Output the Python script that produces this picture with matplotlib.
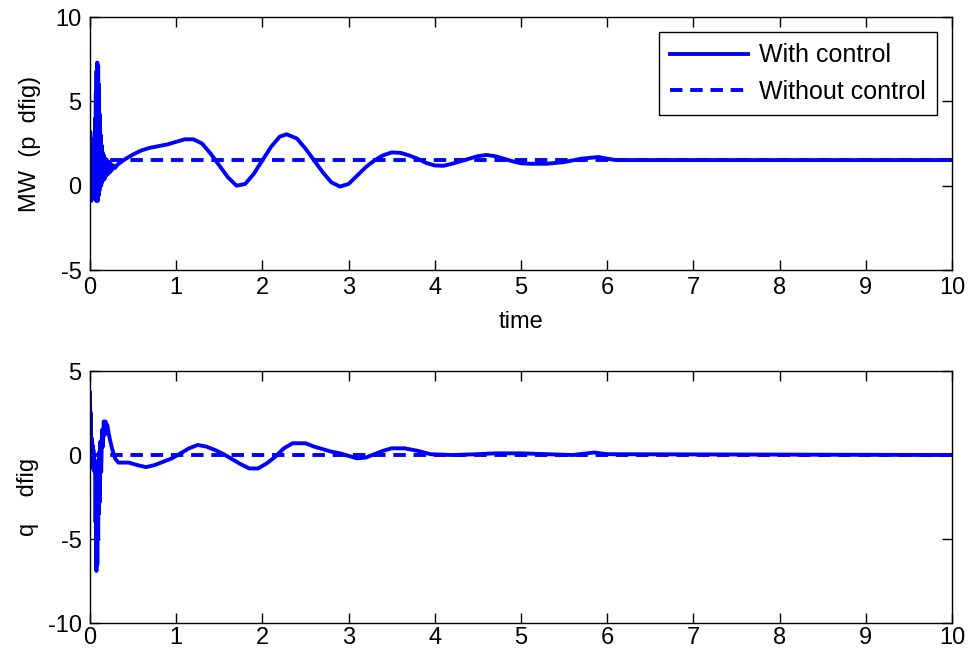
import matplotlib.pyplot as plt

plt.rcParams["font.family"] = ["Liberation Sans", "DejaVu Sans"]
plt.rcParams["font.size"] = 17
plt.rcParams["axes.unicode_minus"] = False

# top panel: active power (MW)
t_p = [0, 0.004, 0.008, 0.012, 0.016, 0.02, 0.024, 0.028, 0.032, 0.036, 0.04,
       0.044, 0.048, 0.052, 0.056, 0.06, 0.064, 0.068, 0.072, 0.076, 0.08, 0.085,
       0.09, 0.095, 0.1, 0.105, 0.11, 0.115, 0.12, 0.125, 0.13, 0.135, 0.14, 0.145,
       0.15, 0.16, 0.17, 0.18, 0.19, 0.2, 0.21, 0.22, 0.23, 0.24, 0.25, 0.27, 0.29,
       0.32, 0.36, 0.4,
       0.5, 0.6, 0.7, 0.8, 0.9, 1.0, 1.1, 1.2, 1.3, 1.4, 1.5, 1.6, 1.7, 1.8,
       1.9, 2.0, 2.1, 2.2, 2.28, 2.4, 2.5, 2.6, 2.7, 2.8, 2.9, 3.0, 3.1, 3.2,
       3.3, 3.4, 3.5, 3.6, 3.7, 3.8, 3.9, 4.0, 4.1, 4.2, 4.3, 4.4, 4.5, 4.6,
       4.7, 4.8, 4.9, 5.0, 5.1, 5.2, 5.3, 5.4, 5.5, 5.6, 5.7, 5.8, 5.9, 6.0,
       6.1, 7.0, 10.0]
p_ctrl = [0.0, 3.2, -0.8, 2.8, -0.9, 2.5, -0.7, 2.2, -0.6, 2.0, -0.5,
          1.8, -0.4, 2.5, -0.6, 4.0, -0.8, 5.5, -0.9, 6.8, -0.7, 7.3,
          -0.9, 7.1, -0.6, 6.0, -0.3, 4.2, 0.0, 3.0, 0.0, 2.4, 0.2, 2.0,
          0.3, 1.8, 0.4, 1.6, 0.6, 1.5, 0.7, 1.4, 0.8, 1.3, 0.9, 1.2, 1.05,
          1.25, 1.4, 1.55,
          1.85, 2.1, 2.25, 2.35, 2.45, 2.6, 2.75, 2.75, 2.5, 1.9, 1.2, 0.5, 0.0, 0.1,
          0.7, 1.5, 2.3, 2.9, 3.05, 2.8, 2.2, 1.5, 0.8, 0.2, -0.05, 0.1, 0.6, 1.1,
          1.5, 1.8, 1.97, 1.95, 1.8, 1.6, 1.35, 1.2, 1.18, 1.3, 1.45, 1.6, 1.75, 1.82,
          1.75, 1.6, 1.45, 1.33, 1.3, 1.3, 1.3, 1.35, 1.4, 1.5, 1.6, 1.65, 1.7, 1.6,
          1.52, 1.52, 1.52]
t_p_nc = [0, 10]
p_noctrl = [1.52, 1.52]

# bottom panel: reactive power
t_q = [0, 0.005, 0.01, 0.015, 0.02, 0.025, 0.03, 0.035, 0.04, 0.045, 0.05, 0.055,
       0.06, 0.065, 0.07, 0.075, 0.08, 0.085, 0.09, 0.095, 0.1, 0.105, 0.11, 0.115,
       0.12, 0.13, 0.14, 0.15, 0.16, 0.17, 0.18, 0.19, 0.2, 0.22, 0.25, 0.29, 0.33,
       0.45, 0.55, 0.65,
       0.75, 0.85, 0.95, 1.05, 1.15, 1.25, 1.35, 1.45, 1.55, 1.65, 1.75, 1.85,
       1.95, 2.05, 2.15, 2.25, 2.35, 2.5, 2.6, 2.7, 2.8, 2.9, 3.0, 3.1, 3.2, 3.3,
       3.4, 3.5, 3.65, 3.8, 3.95, 4.2, 4.5, 4.7, 5.0, 5.3, 5.6, 5.85, 6.0, 10.0]
q_ctrl = [3.7, 1.0, 2.5, -0.3, 1.0, -0.6, 0.6, -0.8, 0.3, -0.9, -0.2, -1.0,
          -0.4, -4.0, -0.8, -6.9, -1.2, -6.5, -1.0, -5.0, -0.5, -3.5, 0.2, -2.8,
          0.8, -1.0, 1.5, 0.5, 2.0, 1.2, 2.0, 1.4, 1.8, 1.2, 0.5, -0.2, -0.45,
          -0.45, -0.6, -0.72,
          -0.6, -0.4, -0.2, 0.1, 0.4, 0.6, 0.5, 0.3, 0.05, -0.25, -0.55, -0.8,
          -0.8, -0.5, -0.1, 0.4, 0.7, 0.7, 0.5, 0.35, 0.2, 0.1, -0.05, -0.2, -0.15, 0.05,
          0.25, 0.4, 0.4, 0.25, 0.05, 0.0, 0.05, 0.1, 0.1, 0.05, 0.0, 0.15, 0.05, 0.0]
t_q_nc = [0, 10]
q_noctrl = [0.0, 0.0]

x_ticks = list(range(0, 11))
p_ticks = [-5, 0, 5, 10]
q_ticks = [-10, -5, 0, 5]

fig = plt.figure(figsize=(9.8, 6.5), dpi=100)
ax1 = fig.add_axes([0.0918, 0.5846, 0.8796, 0.3892])
ax2 = fig.add_axes([0.0918, 0.0415, 0.8796, 0.3877])

blue = "#0000ff"
ax1.plot(t_p, p_ctrl, color=blue, lw=2.8, label="With control")
ax1.plot(t_p_nc, p_noctrl, color=blue, lw=2.8, ls=(0, (3.2, 2.0)), label="Without control")
ax1.set_xlim(0, 10)
ax1.set_ylim(-5, 10)
ax1.set_yticks(p_ticks)
ax1.set_xlabel("time", labelpad=9)
ax1.set_ylabel("MW  (p  dfig)", labelpad=10)
leg = ax1.legend(loc="upper right", fancybox=False, edgecolor="black",
                 framealpha=1, fontsize=18, handlelength=3.1, handletextpad=0.45,
                 borderaxespad=0.6, borderpad=0.45, labelspacing=0.5)
leg.get_frame().set_linewidth(1.0)

ax2.plot(t_q, q_ctrl, color=blue, lw=2.8)
ax2.plot(t_q_nc, q_noctrl, color=blue, lw=2.8, ls=(0, (3.2, 2.0)))
ax2.set_xlim(0, 10)
ax2.set_ylim(-10, 5)
ax2.set_yticks(q_ticks)
ax2.set_ylabel("q    dfig", labelpad=6)

for ax in (ax1, ax2):
    ax.set_xticks(x_ticks)
    ax.tick_params(direction="in", top=True, right=True, length=7, width=1)
    ax.tick_params(axis="y", pad=6)
    for s in ax.spines.values():
        s.set_linewidth(1.0)
ax1.tick_params(axis="x", pad=5)
ax2.tick_params(axis="x", pad=3)

fig.savefig("out.png", dpi=100)
